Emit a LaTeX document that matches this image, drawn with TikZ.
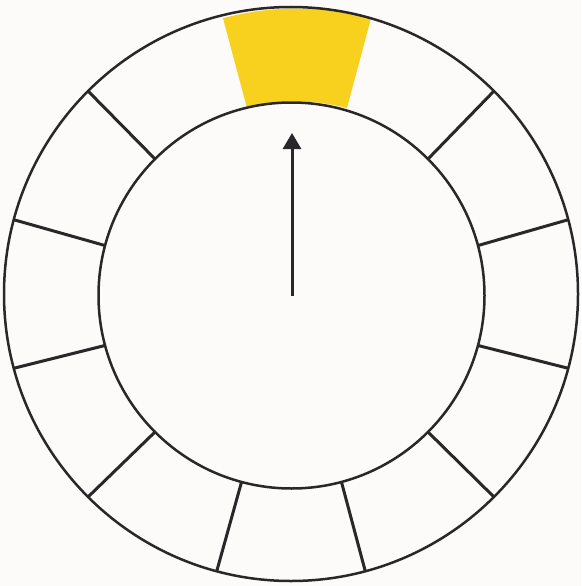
\documentclass[tikz,border=0pt]{standalone}
\usetikzlibrary{arrows.meta,calc}
\definecolor{paper}{RGB}{252,251,249}
\definecolor{ink}{RGB}{40,40,42}
\definecolor{sun}{RGB}{248,208,30}
\begin{document}
\begin{tikzpicture}[x=1pt,y=-1pt,
  ring/.style={draw=ink,line width=2.5pt},
  divider/.style={draw=ink,line width=3pt},
  pointer/.style={draw=ink,line width=3pt,-{Triangle[length=16pt,width=18pt]}}]
\fill[paper] (0,0) rectangle (581,586);
\useasboundingbox (0,0) rectangle (581,586);
\coordinate (co) at (291,294);
\coordinate (ci) at (291.5,295.5);
\coordinate (cy) at (297,294.5);
% yellow segment
\fill[sun] ($(cy)+(255:286)$) arc[start angle=255,end angle=285,radius=286]
  -- ($(cy)+(285:193)$) arc[start angle=285,end angle=255,radius=193] -- cycle;
% dividers
\foreach \a in {315,345,15,45,75,105,135,165,195,225} {
  \draw[divider] ($(ci)+(\a:193)$) -- ($(co)+(\a:287)$);
}
\draw[ring] (co) circle[radius=287];
\draw[ring] (ci) circle[radius=193];
\coordinate (tail) at (292,296);
\coordinate (tip) at (292,133);
\draw[pointer] (tail) -- (tip);
\end{tikzpicture}
\end{document}
